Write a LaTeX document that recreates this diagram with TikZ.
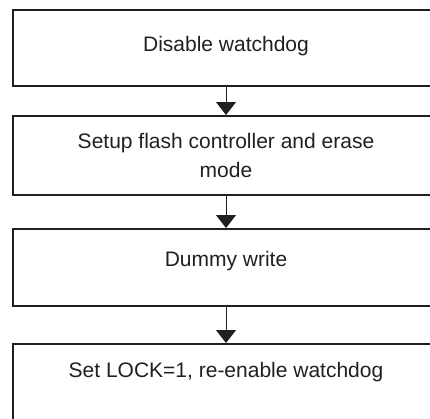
\documentclass[tikz,border=0pt]{standalone}
\usepackage{fontspec}
\setmainfont{Liberation Sans}
\usetikzlibrary{arrows.meta}
\definecolor{inkgray}{HTML}{231F20}
\tikzset{
  stepbox/.style={
    draw=inkgray, line width=2pt, text=inkgray,
    minimum width=427pt, inner sep=0pt, align=center,
    font=\fontsize{21}{29}\selectfont
  },
  flow arrow/.style={
    -{Triangle[width=20pt,length=13pt]}, draw=inkgray, line width=1pt
  }
}

\begin{document}
\begin{tikzpicture}[x=1pt, y=1pt]
    % page size of the reference, boxes run past its right and bottom edges
    \useasboundingbox (0,0) rectangle (430,-418);
    \clip (0,0) rectangle (430,-418);

    % the four steps (text depth pulls each label up a little)
    \node[stepbox, minimum height=76pt, text height=15pt, text depth=9pt] (wdoff) at (226,-48) {Disable watchdog};
    \node[stepbox, minimum height=79pt] (setup) at (226,-155.5) {Setup flash controller and erase\\mode};
    \node[stepbox, minimum height=77pt, text height=15pt, text depth=18pt] (dummy) at (226,-267.5) {Dummy write};
    \node[stepbox, minimum height=78pt, text height=15pt, text depth=27pt] (lock) at (226,-383) {Set LOCK=1, re-enable watchdog};

    % connectors
    \draw[flow arrow] (wdoff) -- (setup);
    \draw[flow arrow] (setup) -- (dummy);
    \draw[flow arrow] (dummy) -- (lock);
\end{tikzpicture}
\end{document}
